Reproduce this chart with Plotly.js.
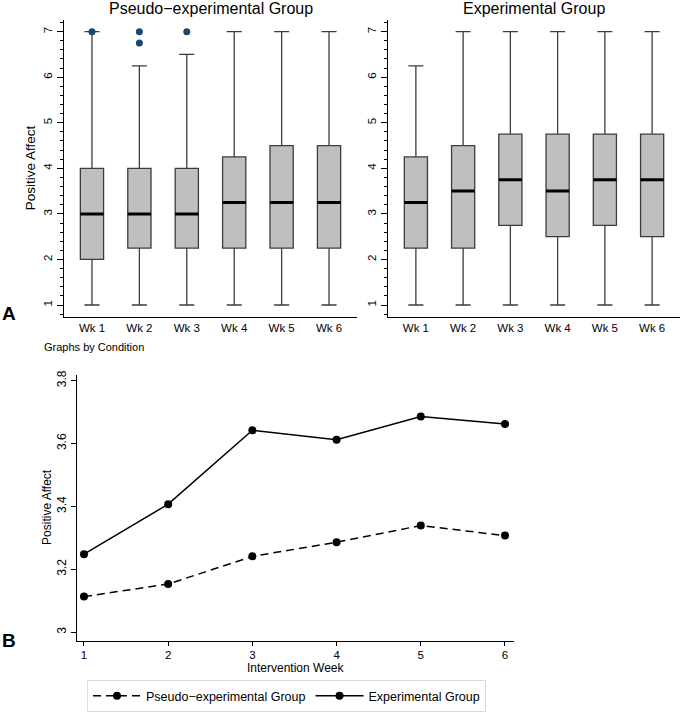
<!DOCTYPE html>
<html>
<head>
<meta charset="utf-8">
<script src="https://cdn.plot.ly/plotly-3.0.1.min.js"></script>
<style>html,body{margin:0;padding:0;background:#fff;}#chart{width:680px;height:712px;}</style>
</head>
<body>
<div id="chart"></div>
<script>
// ---- Data ----
const weekLabels = ["Wk 1", "Wk 2", "Wk 3", "Wk 4", "Wk 5", "Wk 6"];
const weekIdx = [1, 2, 3, 4, 5, 6];

// Pseudo-experimental group box stats
const pseudoQ1     = [2, 2.25, 2.25, 2.25, 2.25, 2.25];
const pseudoMedian = [3, 3, 3, 3.25, 3.25, 3.25];
const pseudoQ3     = [4, 4, 4, 4.25, 4.5, 4.5];
const pseudoLow    = [1, 1, 1, 1, 1, 1];
const pseudoHigh   = [7, 6.25, 6.5, 7, 7, 7];
const pseudoOutX   = [1, 2, 2, 3];
const pseudoOutY   = [7, 7, 6.75, 7];

// Experimental group box stats
const expQ1     = [2.25, 2.25, 2.75, 2.5, 2.75, 2.5];
const expMedian = [3.25, 3.5, 3.75, 3.5, 3.75, 3.75];
const expQ3     = [4.25, 4.5, 4.75, 4.75, 4.75, 4.75];
const expLow    = [1, 1, 1, 1, 1, 1];
const expHigh   = [6.25, 7, 7, 7, 7, 7];

// Mean positive affect by week
const weeks = [1, 2, 3, 4, 5, 6];
const pseudoMeans = [3.113, 3.153, 3.241, 3.286, 3.339, 3.307];
const expMeans    = [3.248, 3.407, 3.642, 3.612, 3.686, 3.662];

const yTicksTop = [1, 2, 3, 4, 5, 6, 7];
const yTicksBottom = [3, 3.2, 3.4, 3.6, 3.8];
const yTickTextBottom = ["3", "3.2", "3.4", "3.6", "3.8"];

// ---- Helpers ----
const BOXW = 0.49;
function medianSegments(xs, meds) {
  const x = [], y = [];
  xs.forEach((v, i) => { x.push(v - BOXW / 2, v + BOXW / 2, null); y.push(meds[i], meds[i], null); });
  return {x, y};
}
function boxTrace(q1, med, q3, lo, hi, xa, ya) {
  return {
    type: 'box', x: weekIdx, q1: q1, median: med, q3: q3, lowerfence: lo, upperfence: hi,
    xaxis: xa, yaxis: ya, width: BOXW, whiskerwidth: 0.65, boxpoints: false,
    fillcolor: '#bfbfbf', line: {color: '#3c3c3c', width: 1.3}, showlegend: false, hoverinfo: 'skip'
  };
}
const pm = medianSegments(weekIdx, pseudoMedian);
const em = medianSegments(weekIdx, expMedian);

const FONT = 'Liberation Sans, Arial, sans-serif';

const data = [
  boxTrace(pseudoQ1, pseudoMedian, pseudoQ3, pseudoLow, pseudoHigh, 'x', 'y'),
  boxTrace(expQ1, expMedian, expQ3, expLow, expHigh, 'x2', 'y2'),
  {type: 'scatter', mode: 'lines', x: pm.x, y: pm.y, xaxis: 'x', yaxis: 'y', line: {color: '#000', width: 3}, showlegend: false, hoverinfo: 'skip'},
  {type: 'scatter', mode: 'lines', x: em.x, y: em.y, xaxis: 'x2', yaxis: 'y2', line: {color: '#000', width: 3}, showlegend: false, hoverinfo: 'skip'},
  {type: 'scatter', mode: 'markers', x: pseudoOutX, y: pseudoOutY, xaxis: 'x', yaxis: 'y', marker: {color: '#1a476f', size: 7}, showlegend: false, hoverinfo: 'skip'},
  {type: 'scatter', mode: 'lines+markers', name: 'Pseudo\u2212experimental Group', x: weeks, y: pseudoMeans, xaxis: 'x3', yaxis: 'y3',
   line: {color: '#000', width: 1.5, dash: '8px,5px'}, marker: {color: '#000', size: 8}},
  {type: 'scatter', mode: 'lines+markers', name: 'Experimental Group', x: weeks, y: expMeans, xaxis: 'x3', yaxis: 'y3',
   line: {color: '#000', width: 1.5}, marker: {color: '#000', size: 8}}
];

const W = 680, H = 712;
const px = v => v / W;
const py = v => 1 - v / H;

const topX = {
  range: [0.41, 6.59], tickvals: weekIdx, ticktext: weekLabels, ticks: '', showline: true,
  linecolor: '#000', linewidth: 1, showgrid: false, zeroline: false, tickfont: {size: 11.5, family: FONT, color: '#000'}
};
const topY = {
  range: [0.74, 7.26], tickvals: yTicksTop, tickangle: -90, ticks: 'outside', ticklen: 6, tickcolor: '#000',
  minor: {dtick: 0.2, tick0: 1, ticks: 'outside', ticklen: 3, tickcolor: '#000', showgrid: false},
  showline: true, linecolor: '#000', linewidth: 1, showgrid: false, zeroline: false,
  tickfont: {size: 11.5, family: FONT, color: '#000'}
};

const layout = {
  width: W, height: H, margin: {l: 0, r: 0, t: 0, b: 0},
  paper_bgcolor: '#fff', plot_bgcolor: '#fff',
  font: {family: FONT, color: '#000'},
  xaxis: Object.assign({}, topX, {domain: [px(64), px(357)], anchor: 'y'}),
  yaxis: Object.assign({}, topY, {domain: [py(320), py(20)], anchor: 'x'}),
  xaxis2: Object.assign({}, topX, {domain: [px(388), px(680)], anchor: 'y2'}),
  yaxis2: Object.assign({}, topY, {domain: [py(320), py(20)], anchor: 'x2'}),
  xaxis3: {
    domain: [px(77), px(514)], anchor: 'y3', range: [0.917, 6.107], tickvals: weeks,
    ticks: 'outside', ticklen: 4, tickcolor: '#000', showline: true, linecolor: '#000', linewidth: 1,
    showgrid: false, zeroline: false, tickfont: {size: 11.5, family: FONT, color: '#000'}
  },
  yaxis3: {
    domain: [py(647), py(379)], anchor: 'x3', range: [2.973, 3.817], tickvals: yTicksBottom, ticktext: yTickTextBottom,
    tickangle: -90, ticks: 'outside', ticklen: 5, tickcolor: '#000', showline: true, linecolor: '#000', linewidth: 1,
    showgrid: false, zeroline: false, tickfont: {size: 12, family: FONT, color: '#000'}
  },
  showlegend: true,
  legend: {
    orientation: 'h', x: px(87), y: py(687), xanchor: 'left', yanchor: 'top',
    bordercolor: '#dcdcdc', borderwidth: 1, bgcolor: '#fff', font: {size: 12.5, family: FONT, color: '#000'},
    itemwidth: 48, tracegroupgap: 0
  },
  annotations: [
    {text: 'Pseudo\u2212experimental Group', x: px(210.5), y: py(9), xref: 'paper', yref: 'paper', showarrow: false, xanchor: 'center', yanchor: 'middle', font: {size: 16}},
    {text: 'Experimental Group', x: px(533.5), y: py(9), xref: 'paper', yref: 'paper', showarrow: false, xanchor: 'center', yanchor: 'middle', font: {size: 16}},
    {text: 'Positive Affect', x: px(30), y: py(170), xref: 'paper', yref: 'paper', showarrow: false, textangle: -90, xanchor: 'center', yanchor: 'middle', font: {size: 13.5}},
    {text: 'Graphs by Condition', x: px(42), y: py(350), xref: 'paper', yref: 'paper', showarrow: false, xanchor: 'left', yanchor: 'middle', font: {size: 11}},
    {text: '<b>A</b>', x: 0, y: py(317), xref: 'paper', yref: 'paper', showarrow: false, xanchor: 'left', yanchor: 'middle', font: {size: 19}},
    {text: '<b>B</b>', x: 0, y: py(647), xref: 'paper', yref: 'paper', showarrow: false, xanchor: 'left', yanchor: 'middle', font: {size: 19}},
    {text: 'Positive Affect', x: px(47), y: py(512), xref: 'paper', yref: 'paper', showarrow: false, textangle: -90, xanchor: 'center', yanchor: 'middle', font: {size: 12}},
    {text: 'Intervention Week', x: px(295.5), y: py(675), xref: 'paper', yref: 'paper', showarrow: false, xanchor: 'center', yanchor: 'middle', font: {size: 12}}
  ]
};

Plotly.newPlot('chart', data, layout, {displayModeBar: false, staticPlot: true});
</script>
</body>
</html>
